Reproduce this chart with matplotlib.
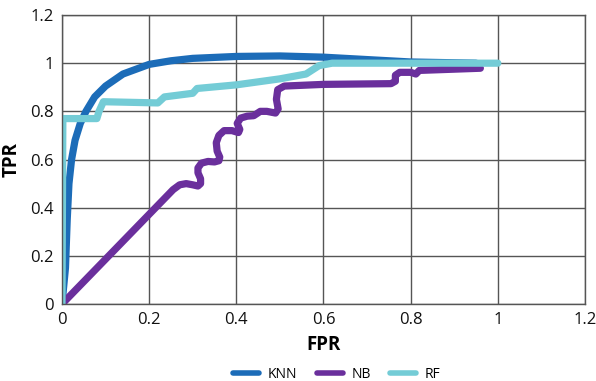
import matplotlib
matplotlib.use('Agg')
import matplotlib.pyplot as plt

# ROC curves
knn_fpr = [0, 0.008, 0.012, 0.016, 0.022, 0.03, 0.042, 0.055, 0.075, 0.1, 0.14, 0.2,
           0.25, 0.3, 0.4, 0.5, 0.6, 0.7, 0.8, 0.95]
knn_tpr = [0, 0.15, 0.35, 0.5, 0.6, 0.68, 0.75, 0.8, 0.86, 0.905, 0.955, 0.995,
           1.01, 1.02, 1.028, 1.03, 1.025, 1.015, 1.005, 1.0]

nb_fpr = [0, 0.255, 0.27, 0.285, 0.3, 0.312, 0.318, 0.318, 0.312, 0.312, 0.32,
          0.335, 0.35, 0.36, 0.362, 0.356, 0.354, 0.36, 0.372, 0.39, 0.405, 0.408,
          0.402, 0.41, 0.425, 0.44, 0.455, 0.47, 0.49, 0.496, 0.492, 0.495, 0.51,
          0.6, 0.755, 0.765, 0.765, 0.775, 0.8, 0.812, 0.82, 0.96]
nb_tpr = [0, 0.475, 0.495, 0.5, 0.495, 0.49, 0.5, 0.52, 0.545, 0.565, 0.585,
          0.592, 0.59, 0.595, 0.61, 0.635, 0.67, 0.7, 0.72, 0.72, 0.712, 0.725,
          0.75, 0.772, 0.78, 0.782, 0.8, 0.8, 0.793, 0.81, 0.85, 0.89, 0.905,
          0.912, 0.915, 0.925, 0.95, 0.962, 0.962, 0.955, 0.97, 0.979]

rf_fpr = [0, 0.002, 0.08, 0.085, 0.095, 0.22, 0.235, 0.3, 0.31, 0.4, 0.5, 0.56,
          0.59, 0.62, 1.0]
rf_tpr = [0, 0.77, 0.77, 0.8, 0.84, 0.835, 0.86, 0.875, 0.895, 0.91, 0.935, 0.955,
          0.99, 1.0, 1.0]

ticks = [0, 0.2, 0.4, 0.6, 0.8, 1, 1.2]
tick_labels = ['0', '0.2', '0.4', '0.6', '0.8', '1', '1.2']

plt.rcParams['font.family'] = ['Open Sans', 'DejaVu Sans']

fig = plt.figure(figsize=(5.96, 3.81), dpi=100)
ax = fig.add_axes([0.104, 0.202, 0.8775, 0.7586])

line_kw = dict(linewidth=5.2, solid_capstyle='round', solid_joinstyle='round')
ax.plot(knn_fpr, knn_tpr, color='#1c6cb8', label='KNN', **line_kw)
ax.plot(nb_fpr, nb_tpr, color='#6a2f9c', label='NB', **line_kw)
ax.plot(rf_fpr, rf_tpr, color='#74ccd6', label='RF', **line_kw)

ax.set_xlim(0, 1.2)
ax.set_ylim(0, 1.2)
ax.set_xticks(ticks)
ax.set_xticklabels(tick_labels)
ax.set_yticks(ticks)
ax.set_yticklabels(tick_labels)
ax.tick_params(length=0, labelsize=12, colors='#111111')
ax.tick_params(axis='x', pad=6)
ax.tick_params(axis='y', pad=6)
ax.grid(True, color='#555555', linewidth=1)
ax.set_axisbelow(True)
for s in ax.spines.values():
    s.set_color('#555555')
    s.set_linewidth(1)

ax.set_xlabel('FPR', fontsize=13.5, fontweight='bold', labelpad=5)
ax.set_ylabel('TPR', fontsize=13.5, fontweight='bold', labelpad=6)

leg = fig.legend(loc='lower center', bbox_to_anchor=(0.565, -0.035), ncol=3, frameon=False,
                 fontsize=10, handlelength=1.9, columnspacing=1.4, handletextpad=0.6)
for ln in leg.get_lines():
    ln.set_linewidth(4)

fig.savefig('out.png', dpi=100)
